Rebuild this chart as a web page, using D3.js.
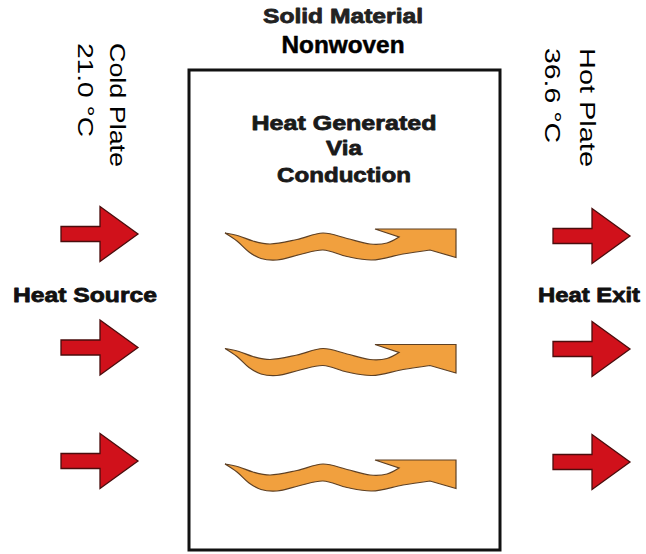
<!DOCTYPE html>
<html><head><meta charset="utf-8">
<script src="https://cdn.jsdelivr.net/npm/d3@7"></script>
<style>html,body{margin:0;padding:0;background:#fff;}svg{display:block;}</style>
</head><body>
<script>
// ---- data ----
const rows = [0, 1, 2];
const titleLines = ["Solid Material", "Nonwoven"];
const boxLines = ["Heat Generated", "Via", "Conduction"];
const leftLabel = "Heat Source";
const rightLabel = "Heat Exit";
const coldPlate = ["Cold Plate", "21.0 °C"];
const hotPlate = ["Hot Plate", "36.6 °C"];

const W = 646, H = 554;
const svg = d3.select("body").append("svg").attr("width", W).attr("height", H);
const font = "'Liberation Sans', Arial, Helvetica, sans-serif";

// scales for the three rows
const yLeft = d3.scaleLinear().domain([0, 2]).range([234, 461]);
const yRight = d3.scaleLinear().domain([0, 2]).range([236, 462]);
const yWave = d3.scaleLinear().domain([0, 2]).range([229, 460]);

// box
svg.append("rect").attr("x", 189).attr("y", 70).attr("width", 311).attr("height", 480)
  .attr("fill", "none").attr("stroke", "#111").attr("stroke-width", 3);

// texts
function txt(t, x, y, size, weight, len, fill, sw) {
  const e = svg.append("text").attr("x", x).attr("y", y).attr("text-anchor", "middle")
    .attr("font-family", font).attr("font-size", size).attr("font-weight", weight)
    .attr("fill", fill || "#111").attr("stroke", fill || "#111").attr("stroke-width", sw || 0)
    .attr("stroke-linejoin", "round").text(t);
  if (len) e.attr("textLength", len).attr("lengthAdjust", "spacingAndGlyphs");
  return e;
}
txt(titleLines[0], 343, 23, 21, "bold", 160, "#222", 0.8);
txt(titleLines[1], 343, 53, 24, "bold", 123, "#000", 0.5);
const boxLen = [185, 36, 134];
const boxY = [130, 155, 182];
boxLines.forEach((t, i) => txt(t, 344, boxY[i], 21, "bold", boxLen[i], "#1a1a1a", 0.8));
txt(leftLabel, 85, 302, 21, "bold", 144, "#111", 0.8);
txt(rightLabel, 589, 302, 21, "bold", 102, "#111", 0.8);

// rotated plate labels
function vtxt(t, bx, y0, len) {
  svg.append("text").attr("transform", `translate(${bx},${y0}) rotate(90)`)
    .attr("x", 0).attr("y", 0).attr("font-family", font).attr("font-size", 22)
    .attr("fill", "#000").attr("textLength", len).attr("lengthAdjust", "spacingAndGlyphs")
    .text(t);
}
vtxt(coldPlate[0], 110, 43, 124);
vtxt(coldPlate[1], 78, 43, 94);
vtxt(hotPlate[0], 580, 48, 119);
vtxt(hotPlate[1], 545, 48, 95);

// red block arrow
function redArrow(x0, cy) {
  const pts = [[0, -7.5], [39, -7.5], [39, -27.5], [77, 0], [39, 27.5], [39, 7.5], [0, 7.5]];
  svg.append("path").attr("d", d3.line()(pts.map(p => [x0 + p[0], cy + p[1]])) + "Z")
    .attr("fill", "#D0111B").attr("stroke", "#4a0d0d").attr("stroke-width", 1.3)
    .attr("stroke-linejoin", "miter");
}
rows.forEach(r => redArrow(61, yLeft(r)));
rows.forEach(r => redArrow(553, yRight(r)));

// wavy orange arrow
const topEdge = [[0, 4], [14, 7], [28, 12], [45, 15], [72, 10.5], [98, 4], [122, 9.5], [145, 15], [162, 14], [174, 8]];
const head = [[150, 0], [231, 0], [231, 28.5], [205, 21]];
const botEdge = [[205, 21], [178, 25], [147, 31], [122, 27.5], [98, 21], [75, 25.5], [52, 31], [36, 29.5], [24, 23], [12, 12], [0, 4]];
function waveArrow(x0, y0) {
  const sh = p => [x0 + p[0], y0 + p[1]];
  const cl = d3.line().curve(d3.curveCatmullRom.alpha(0.5));
  const d = cl(topEdge.map(sh)) + "L" + head.map(sh).map(p => p.join(",")).join("L")
    + cl(botEdge.map(sh)).replace(/^M/, "L") + "Z";
  svg.append("path").attr("d", d).attr("fill", "#F1A03E").attr("stroke", "#5e4024")
    .attr("stroke-width", 1.2).attr("stroke-linejoin", "miter");
}
rows.forEach(r => waveArrow(225, yWave(r)));
</script>
</body></html>
